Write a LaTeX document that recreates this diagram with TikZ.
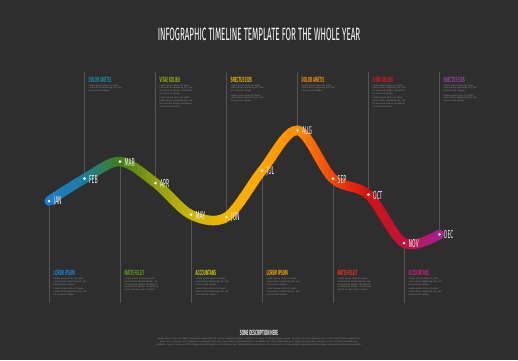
\documentclass[tikz,border=0pt]{standalone}
\usepackage{fontspec}
\setmainfont{Fira Sans}
\newfontfamily\cond[FakeStretch=0.45]{Fira Sans}
\definecolor{bg}{HTML}{2E2E2E}
\definecolor{vline}{HTML}{555555}
\definecolor{txt}{HTML}{8A8A8A}
\definecolor{lab}{HTML}{EEEEEE}
\definecolor{c0}{HTML}{1F7BC9}
\definecolor{c1}{HTML}{1C7E9E}
\definecolor{c2}{HTML}{427E18}
\definecolor{c3}{HTML}{8E9E10}
\definecolor{c4}{HTML}{C9B60A}
\definecolor{c5}{HTML}{F3B500}
\definecolor{c6}{HTML}{FFA600}
\definecolor{c7}{HTML}{FF8A00}
\definecolor{c8}{HTML}{F2460C}
\definecolor{c9}{HTML}{D41212}
\definecolor{c10}{HTML}{C0123C}
\definecolor{c11}{HTML}{A8208E}
\definecolor{hFEB}{HTML}{1E88AA}
\definecolor{hAPR}{HTML}{8FA812}
\definecolor{hJUN}{HTML}{E6B400}
\definecolor{hAUG}{HTML}{F08C00}
\definecolor{hOCT}{HTML}{D01C1C}
\definecolor{hDEC}{HTML}{8E44A8}
\definecolor{hJAN}{HTML}{1F80D0}
\definecolor{hMAR}{HTML}{5C9A12}
\definecolor{hMAY}{HTML}{C8C414}
\definecolor{hJUL}{HTML}{F0A000}
\definecolor{hSEP}{HTML}{E2321A}
\definecolor{hNOV}{HTML}{C0207E}
\newcommand\pthree{Lorem ipsum dolor sit amet, consectetur adipiscing elit, sed do eiusmod tempor.}
\newcommand\pfour{Lorem ipsum dolor sit amet, consectetur adipiscing elit, sed do eiusmod tempor incididunt ut labore et dolore.}
\newcommand\pfive{Lorem ipsum dolor sit amet, consectetur adipiscing elit, sed do eiusmod tempor incididunt ut labore et dolore. Ut enim ad minim veniam, quis nostrud.}
\newcommand\ribbon[1]{\draw[#1] plot[smooth,tension=0.55] coordinates {(49,201) (84.5,178.7) (120,161.5) (155.5,183) (191,214.7) (226.5,217) (262,170.7) (297.5,130.3) (333,178.7) (368.5,194.7) (404,243) (439.5,234.3)};}
\tikzset{
  rib/.style={line width=9.5pt, line cap=round},
  vl/.style={draw=vline, line width=1pt},
  dot/.style={circle, fill=white, inner sep=0pt, minimum size=3pt},
  mlab/.style={font=\cond\fontsize{11.5}{12}\selectfont, text=lab, anchor=west, inner sep=0pt},
  head/.style={font=\cond\bfseries\fontsize{7.5}{8}\selectfont, anchor=west, inner sep=0pt},
  body/.style={font=\fontsize{2.3}{2.8}\selectfont, text=txt, text width=34pt, align=left, inner sep=0pt, anchor=north west},
}
\begin{document}
\begin{tikzpicture}[x=1pt,y=-1pt]
\fill[bg] (0,0) rectangle (518,360);
\useasboundingbox (0,0) rectangle (518,360);
% title
\node[font=\cond\fontsize{17.8}{20}\selectfont, text=white, inner sep=0pt] (title) at (259,34.5) {INFOGRAPHIC TIMELINE TEMPLATE FOR THE WHOLE YEAR};
% month points
\foreach \i/\y in {0/201,1/178.7,2/161.5,3/183,4/214.7,5/217,6/170.7,7/130.3,8/178.7,9/194.7,10/243,11/234.3}{
  \coordinate (p\i) at (49+35.5*\i,\y);
}
% vertical lines
\foreach \i in {1,3,5,7,9,11}{
  \coordinate (t\i) at (49+35.5*\i,72);
  \draw[vl] (t\i) -- (p\i);
}
\foreach \i in {0,2,4,6,8,10}{
  \coordinate (b\i) at (49+35.5*\i,303);
  \draw[vl] (p\i) -- (b\i);
}
% ribbon with colour gradient along x
\begin{scope}
  \clip (30,0) rectangle (49.3,360);
  \ribbon{rib,color=c0}
\end{scope}
\foreach \m [evaluate=\m as \n using int(\m+1)] in {0,...,10}{
  \foreach \k in {0,...,7}{
    \pgfmathsetmacro\xa{49+35.5*\m+35.5*\k/8}
    \pgfmathsetmacro\pc{(\k+0.5)*12.5}
    \begin{scope}
      \clip (\xa-0.3,0) rectangle (\xa+4.8,360);
      \ribbon{rib,color=c\n!\pc!c\m}
    \end{scope}
  }
}
\begin{scope}
  \clip (439.2,0) rectangle (470,360);
  \ribbon{rib,color=c11}
\end{scope}
% dots and labels
\foreach \i/\name in {0/JAN,1/FEB,2/MAR,3/APR,4/MAY,5/JUN,6/JUL,7/AUG,8/SEP,9/OCT,10/NOV,11/DEC}{
  \node[dot] (d\i) at (p\i) {};
  \node[mlab] (l\i) at ([xshift=4.5pt,yshift=-0.6pt]p\i) {\name};
}
% top blocks
\node[head, text=hFEB] (hf) at (88.5,79.5) {DOLOR AMETIS};
\node[body] (bf) at (88.5,84) {\pthree};
\node[head, text=hAPR] (ha) at (159.5,79.5) {VITAE KOLIEN};
\node[body] (ba) at (159.5,84) {\pfour\\[1.6pt]\pfour};
\node[head, text=hJUN] (hj) at (230.5,79.5) {SNECTUS EXIS};
\node[body] (bj) at (230.5,84) {\pthree\\[1.6pt]\pthree};
\node[head, text=hAUG] (hg) at (301.5,79.5) {DOLOR AMETIS};
\node[body] (bg) at (301.5,84) {\pthree};
\node[head, text=hOCT] (ho) at (372.5,79.5) {VITAE KOLIEN};
\node[body] (bo) at (372.5,84) {\pfour\\[1.6pt]\pfour};
\node[head, text=hDEC] (hd) at (443.5,79.5) {SNECTUS EXIS};
\node[body] (bd) at (443.5,84) {\pthree\\[1.6pt]\pthree};
% bottom blocks
\node[head, text=hJAN] (hJ) at (53.5,273) {LOREM IPSUM};
\node[body] (bJ) at (53.5,277.5) {\pthree\\[1.6pt]\pthree};
\node[head, text=hMAR] (hM) at (124.5,273) {MATIS FELEIT};
\node[body] (bM) at (124.5,277.5) {\pfive};
\node[head, text=hMAY] (hY) at (195.5,273) {ACCOUNTANS};
\node[body] (bY) at (195.5,277.5) {\pthree\\[1.6pt]\pthree};
\node[head, text=hJUL] (hL) at (266.5,273) {LOREM IPSUM};
\node[body] (bL) at (266.5,277.5) {\pthree\\[1.6pt]\pthree};
\node[head, text=hSEP] (hS) at (337.5,273) {MATIS FELEIT};
\node[body] (bS) at (337.5,277.5) {\pfive};
\node[head, text=hNOV] (hN) at (408.5,273) {ACCOUNTANS};
\node[body] (bN) at (408.5,277.5) {\pthree\\[1.6pt]\pthree};
% description
\node[head, anchor=center, text=lab] (desc) at (259,333) {SOME DESCRIPTION HERE};
\node[body, anchor=north, text width=213pt, align=center] (desct) at (259,337.6) {Lorem ipsum dolor sit amet, consectetur adipiscing elit, sed do eiusmod tempor incididunt ut labore et dolore magna aliqua. Ut enim ad minim veniam, quis nostrud exercitation ullamco laboris nisi ut aliquip ex ea commodo consequat. Duis aute irure dolor in reprehenderit in voluptate velit esse cillum dolore eu fugiat nulla pariatur. Excepteur sint occaecat cupidatat non proident, sunt in culpa qui officia deserunt mollit anim id est laborum. Sed ut perspiciatis unde omnis iste natus error sit voluptatem accusantium doloremque laudantium, totam rem aperiam.};
\end{tikzpicture}
\end{document}
